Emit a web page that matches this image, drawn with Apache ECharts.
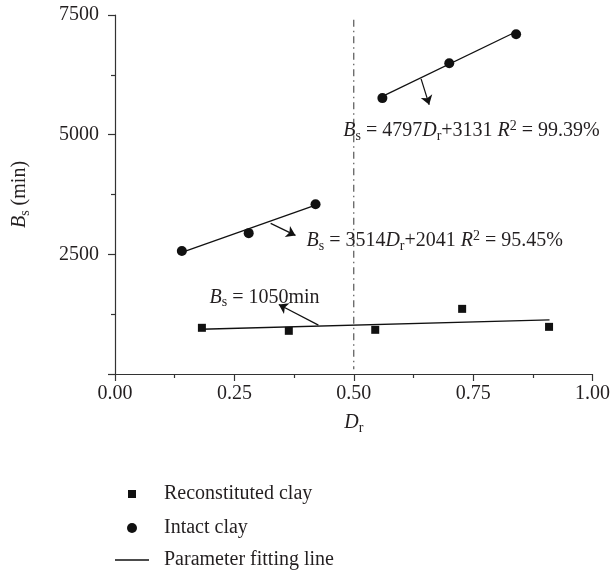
<!DOCTYPE html>
<html><head><meta charset="utf-8">
<script src="https://cdn.jsdelivr.net/npm/echarts@6/dist/echarts.min.js"></script>
<style>html,body{margin:0;padding:0;background:#fff}#c{width:613px;height:573px}</style>
</head><body><div id="c"></div>
<script>
// ---- data ----
const reconstitutedDr = [0.182, 0.364, 0.545, 0.727, 0.909];
const reconstitutedBs = [965, 902, 923, 1361, 985];
const intactDr = [0.14, 0.28, 0.42, 0.56, 0.70, 0.84];
const intactBs = [2568, 2943, 3547, 5764, 6493, 7097];
const fitLowDr = [0.14, 0.42];   const fitLowBs = [2540, 3530];
const fitHighDr = [0.56, 0.84];  const fitHighBs = [5800, 7150];
const fitReconDr = [0.18, 0.91]; const fitReconBs = [935, 1130];
const splitDr = [0.5, 0.5];      const splitBs = [7400, 100];
const xTickValues = [0, 0.25, 0.5, 0.75, 1];
const yTickValues = [2500, 5000, 7500];
const seriesNames = ['Reconstituted clay', 'Intact clay', 'Parameter fitting line'];
const annotationText = [
  '{i|B}{sub|s}{n| = 4797}{i|D}{sub|r}{n|+3131 }{i|R}{sup|2}{n| = 99.39%}',
  '{i|B}{sub|s}{n| = 3514}{i|D}{sub|r}{n|+2041 }{i|R}{sup|2}{n| = 95.45%}',
  '{i|B}{sub|s}{n| = 1050min}'
];
const annotationDr = [0.478, 0.401, 0.198];
const annotationBs = [5078, 2778, 1600];
const arrowFromDr = [0.641, 0.326, 0.426];
const arrowFromBs = [6167, 3146, 1021];
const arrowToDr = [0.658, 0.378, 0.343];
const arrowToBs = [5625, 2896, 1452];

// ---- styling ----
const FONT = 'Liberation Serif';
const INK = '#231f20';
const rich = {
  i: {fontFamily: FONT, fontStyle: 'italic', fontSize: 20, lineHeight: 24, color: INK},
  n: {fontFamily: FONT, fontSize: 20, lineHeight: 24, color: INK},
  sub: {fontFamily: FONT, fontSize: 14, lineHeight: 12, verticalAlign: 'bottom', color: INK},
  sup: {fontFamily: FONT, fontSize: 14, lineHeight: 16, verticalAlign: 'top', color: INK}
};
const zip = (a, b) => a.map((v, k) => [v, b[k]]);
const fitStyle = {color: '#111', width: 1.3};
function fitSeries(xs, ys) {
  return {type: 'line', name: seriesNames[2], data: zip(xs, ys), symbol: 'none', showSymbol: false,
          lineStyle: fitStyle, itemStyle: {color: '#111'}, silent: true, z: 3};
}
function legendItem(name, icon, left, top, w, h, pad) {
  return {
    orient: 'vertical', left: left, top: top, padding: 0, itemWidth: w, itemHeight: h,
    data: [{name: name, icon: icon}], selectedMode: false,
    formatter: n => '{a|' + n + '}',
    textStyle: {fontFamily: FONT, fontSize: 20, color: INK, lineHeight: 22,
      rich: {a: {fontFamily: FONT, fontSize: 20, color: INK, lineHeight: 22, padding: [0, 0, 0, pad]}}}
  };
}

const chart = echarts.init(document.getElementById('c'), null, {renderer: 'canvas'});
chart.setOption({
  animation: false,
  backgroundColor: '#fff',
  grid: {left: 115, right: 17, top: 15, bottom: 199},
  xAxis: {
    type: 'value', min: 0, max: 1, interval: 0.25,
    name: '{i|D}{sub|r}', nameLocation: 'middle', nameGap: 37,
    nameTextStyle: {rich: rich},
    axisLine: {onZero: false, lineStyle: {color: '#333', width: 1.2}},
    axisTick: {length: 7, lineStyle: {color: '#333', width: 1.2}},
    minorTick: {show: true, splitNumber: 2, length: 4, lineStyle: {color: '#333', width: 1.2}},
    splitLine: {show: false},
    axisLabel: {margin: 10, fontFamily: FONT, fontSize: 20, color: INK,
      formatter: v => { const t = xTickValues.find(x => Math.abs(x - v) < 1e-9); return t === undefined ? '' : t.toFixed(2); }}
  },
  yAxis: {
    type: 'value', min: 0, max: 7500, interval: 2500,
    name: '{i|B}{sub|s}{n| (min)}', nameLocation: 'middle', nameGap: 83,
    nameTextStyle: {rich: rich},
    axisLine: {show: true, onZero: false, lineStyle: {color: '#333', width: 1.2}},
    axisTick: {show: true, length: 7, lineStyle: {color: '#333', width: 1.2}},
    minorTick: {show: true, splitNumber: 2, length: 4, lineStyle: {color: '#333', width: 1.2}},
    splitLine: {show: false},
    axisLabel: {margin: 16, fontFamily: FONT, fontSize: 20, color: INK, showMinLabel: false,
      formatter: v => yTickValues.indexOf(v) >= 0 ? String(v) : ''}
  },
  legend: [
    legendItem(seriesNames[0], 'rect', 128, 483, 8, 8, 23),
    legendItem(seriesNames[1], 'circle', 127, 517, 10, 10, 22),
    legendItem(seriesNames[2], 'path://M0,0H34V1.3H0Z', 115, 549, 34, 1.3, 10)
  ],
  series: [
    {type: 'scatter', name: seriesNames[0], data: zip(reconstitutedDr, reconstitutedBs),
     symbol: 'rect', symbolSize: 8, itemStyle: {color: '#111', opacity: 1}, z: 4},
    {type: 'scatter', name: seriesNames[1], data: zip(intactDr, intactBs),
     symbol: 'circle', symbolSize: 10, itemStyle: {color: '#111', opacity: 1}, z: 4},
    fitSeries(fitLowDr, fitLowBs),
    fitSeries(fitHighDr, fitHighBs),
    fitSeries(fitReconDr, fitReconBs),
    {type: 'line', name: 'split', data: zip(splitDr, splitBs), symbol: 'none', silent: true,
     lineStyle: {color: '#555', width: 1.2, type: [7, 4, 1.5, 4]}, z: 2},
    {type: 'scatter', name: 'annotations', silent: true, symbolSize: 0, z: 5,
     itemStyle: {opacity: 1, color: INK},
     data: annotationText.map((t, k) => ({value: [annotationDr[k], annotationBs[k]],
       label: {show: true, position: 'right', distance: 0, formatter: t, rich: rich, color: INK, opacity: 1}})),
     markLine: {
       silent: true, symbol: ['none', 'arrow'], symbolSize: 9,
       label: {show: false},
       lineStyle: {color: '#111', width: 1.2, type: 'solid', opacity: 1},
       itemStyle: {color: '#111'},
       data: arrowFromDr.map((v, k) => [{coord: [v, arrowFromBs[k]]}, {coord: [arrowToDr[k], arrowToBs[k]]}])
     }}
  ]
});
</script></body></html>
